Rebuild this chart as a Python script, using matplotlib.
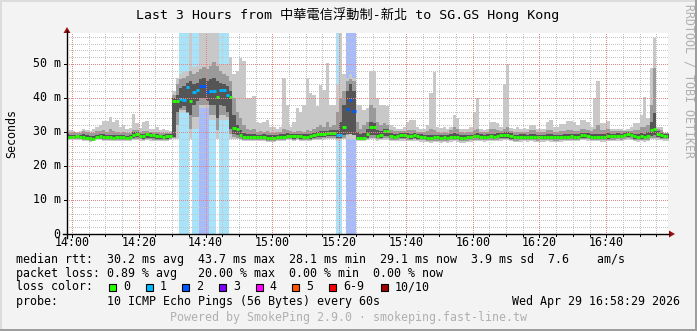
import numpy as np
import matplotlib
matplotlib.use("Agg")
import matplotlib.pyplot as plt
import matplotlib.transforms as mtrans
from matplotlib.patches import Rectangle, Polygon
from matplotlib.lines import Line2D

# ---------------- data (one sample per minute, first sample starts 13:58) ----------------
start_minute = -2
median = [
    28.6, 28.6, 28.5, 28.7, 28.6, 28.5, 28.3, 28.1, 28.0, 28.6,
    28.8, 28.5, 28.4, 28.4, 28.3, 28.4, 28.5, 28.4, 28.3, 28.5,
    29.2, 29.4, 28.9, 28.8, 29.3, 29.1, 29.0, 28.8, 28.7, 28.6,
    28.7, 28.8, 39.1, 39.1, 39.7, 39.4, 43.1, 39.1, 41.8, 42.4,
    43.5, 43.5, 41.7, 41.9, 41.9, 40.4, 42.2, 42.2, 40.9, 40.2,
    31.1, 30.8, 29.1, 28.6, 28.5, 28.5, 28.6, 28.4, 28.4, 28.5,
    28.3, 28.2, 28.2, 28.5, 28.6, 28.6, 28.9, 28.8, 28.7, 28.8,
    28.7, 28.6, 28.6, 28.7, 29.0, 29.3, 29.3, 29.5, 29.7, 29.8,
    29.6, 29.0, 29.1, 31.6, 36.7, 39.5, 36.2, 28.2, 28.2, 28.3,
    29.4, 31.6, 31.6, 28.8, 29.1, 30.4, 30.4, 28.8, 28.6, 28.8,
    29.0, 29.0, 28.9, 28.8, 29.0, 28.7, 28.6, 28.5, 28.3, 28.2,
    28.4, 28.4, 28.3, 28.4, 28.3, 28.5, 28.6, 28.5, 28.3, 28.3,
    28.4, 28.5, 28.8, 28.8, 28.6, 28.5, 28.6, 28.7, 28.6, 28.8,
    29.0, 29.1, 29.1, 28.8, 28.4, 28.4, 28.5, 28.6, 28.5, 28.6,
    28.5, 28.4, 28.5, 28.5, 28.6, 28.5, 28.4, 28.4, 28.5, 28.6,
    28.6, 28.7, 28.6, 28.6, 29.1, 29.1, 28.9, 28.6, 28.6, 28.6,
    28.5, 28.5, 28.7, 28.8, 28.8, 28.9, 28.8, 29.2, 29.3, 29.2,
    28.7, 28.6, 28.7, 28.6, 28.8, 30.6, 30.9, 29.5, 29.0, 28.8, 28.8,
]
smoke_max = [
    40.0, 30.5, 30.3, 30.0, 30.3, 30.8, 30.6, 30.3, 30.8, 31.6,
    32.0, 33.2, 33.3, 34.3, 33.0, 33.5, 31.5, 32.0, 31.0, 31.2,
    35.3, 32.5, 31.2, 32.8, 33.2, 31.0, 31.0, 31.5, 30.6, 31.0,
    30.5, 30.3, 42.0, 46.0, 47.0, 47.5, 48.0, 60.0, 49.0, 49.5,
    60.0, 60.0, 60.0, 60.0, 60.0, 60.0, 50.0, 50.0, 50.0, 52.0,
    47.0, 48.0, 51.7, 51.0, 40.0, 40.0, 40.5, 33.0, 32.5, 33.0,
    33.5, 31.6, 31.6, 31.0, 31.6, 45.8, 38.0, 31.5, 33.0, 37.0,
    36.0, 38.0, 45.8, 41.5, 41.0, 37.5, 43.8, 42.4, 50.2, 38.0,
    38.0, 44.0, 60.0, 47.0, 46.0, 47.0, 46.0, 38.0, 38.0, 36.5,
    37.0, 48.0, 48.0, 40.0, 38.0, 38.0, 37.5, 32.0, 31.5, 31.0,
    31.0, 31.5, 33.0, 33.5, 33.5, 31.5, 31.0, 31.0, 32.0, 41.4,
    47.7, 31.5, 31.2, 31.5, 31.0, 31.5, 35.0, 34.0, 31.0, 31.0,
    31.0, 31.5, 36.0, 39.9, 30.8, 30.6, 31.0, 33.0, 33.0, 32.5,
    31.6, 44.0, 50.0, 31.2, 31.0, 31.5, 31.0, 31.2, 31.0, 32.0,
    32.0, 31.0, 30.8, 31.0, 33.0, 33.5, 31.6, 31.6, 32.3, 32.3,
    33.3, 33.3, 33.0, 32.0, 33.5, 33.5, 33.0, 31.6, 39.9, 45.0,
    32.7, 32.7, 33.3, 31.0, 31.0, 31.0, 31.0, 30.6, 31.0, 31.5,
    32.5, 32.5, 35.0, 40.4, 34.0, 48.7, 57.5, 31.6, 31.6, 29.8, 29.8,
]
smoke_hi_mid = [
    30.0, 29.8, 29.9, 29.7, 29.8, 30.3, 30.0, 29.6, 29.8, 30.2,
    30.3, 30.5, 30.0, 30.8, 30.2, 30.0, 29.8, 30.0, 29.6, 29.8,
    30.6, 30.6, 30.0, 30.2, 30.4, 30.0, 29.9, 30.0, 29.8, 29.8,
    29.8, 29.8, 40.8, 44.0, 45.5, 46.0, 46.5, 48.0, 47.0, 47.5,
    48.5, 49.0, 48.5, 49.5, 50.5, 49.5, 48.0, 47.0, 46.5, 45.0,
    40.0, 36.0, 34.0, 32.0, 31.0, 30.5, 31.0, 30.0, 30.2, 30.0,
    30.3, 29.8, 29.8, 30.0, 30.0, 31.0, 30.5, 30.2, 30.0, 30.4,
    30.3, 30.0, 30.5, 30.3, 31.0, 31.5, 32.0, 31.5, 33.0, 31.5,
    32.0, 36.0, 40.0, 42.0, 45.0, 45.5, 45.0, 33.0, 31.0, 32.0,
    33.0, 38.0, 37.0, 33.0, 32.0, 32.5, 32.0, 30.5, 30.3, 30.2,
    30.3, 30.4, 30.5, 30.6, 30.5, 30.0, 30.0, 30.0, 30.2, 31.0,
    30.5, 30.0, 29.8, 30.0, 29.8, 30.5, 31.5, 31.0, 29.9, 29.8,
    30.0, 30.0, 30.5, 31.0, 30.0, 29.9, 30.0, 31.0, 31.0, 30.5,
    30.3, 31.0, 31.5, 30.2, 30.0, 30.0, 30.0, 30.1, 30.0, 30.5,
    30.5, 30.0, 30.0, 30.0, 30.5, 30.5, 30.0, 30.0, 30.2, 30.2,
    30.5, 30.5, 30.3, 30.2, 30.8, 30.8, 30.5, 30.2, 31.0, 32.0,
    30.5, 30.5, 31.0, 30.3, 30.2, 30.3, 30.2, 30.2, 30.4, 30.3,
    30.5, 30.5, 31.5, 31.5, 32.0, 38.0, 48.7, 31.0, 30.5, 29.6, 29.6,
]
smoke_hi_in = [
    29.3, 29.2, 29.2, 29.1, 29.2, 29.4, 29.0, 28.8, 28.8, 29.2,
    29.4, 29.3, 29.1, 29.2, 29.0, 29.0, 29.1, 29.0, 28.9, 29.1,
    30.0, 30.0, 29.5, 29.4, 29.8, 29.6, 29.5, 29.4, 29.2, 29.2,
    29.3, 29.3, 40.0, 41.0, 43.0, 43.5, 44.5, 45.0, 44.0, 44.5,
    45.5, 46.0, 45.0, 45.5, 46.0, 45.0, 44.5, 44.0, 43.5, 42.0,
    35.0, 32.0, 30.5, 29.8, 29.5, 29.4, 29.5, 29.2, 29.2, 29.3,
    29.2, 29.0, 29.0, 29.2, 29.3, 29.4, 29.6, 29.5, 29.4, 29.5,
    29.4, 29.3, 29.3, 29.4, 29.8, 30.0, 30.2, 30.2, 30.4, 30.5,
    30.5, 30.5, 33.0, 38.0, 42.0, 44.0, 42.0, 30.0, 29.5, 29.6,
    31.0, 33.0, 32.5, 30.5, 30.2, 31.0, 31.0, 29.6, 29.4, 29.5,
    29.6, 29.7, 29.6, 29.5, 29.7, 29.4, 29.3, 29.2, 29.0, 29.0,
    29.2, 29.2, 29.0, 29.1, 29.0, 29.3, 29.8, 29.5, 29.0, 29.0,
    29.1, 29.2, 29.5, 29.6, 29.3, 29.2, 29.3, 29.5, 29.5, 29.6,
    29.7, 29.9, 30.0, 29.6, 29.2, 29.2, 29.3, 29.3, 29.2, 29.4,
    29.3, 29.1, 29.2, 29.2, 29.4, 29.3, 29.1, 29.1, 29.2, 29.3,
    29.4, 29.5, 29.4, 29.3, 29.8, 29.8, 29.6, 29.3, 29.4, 29.5,
    29.3, 29.3, 29.8, 29.5, 29.5, 29.6, 29.5, 29.8, 29.9, 29.8,
    29.5, 29.4, 29.6, 29.5, 30.0, 33.0, 35.5, 30.2, 29.8, 29.4, 29.4,
]
smoke_lo_in = [
    28.2, 28.2, 28.1, 28.2, 28.1, 28.0, 27.9, 27.7, 27.6, 28.1,
    28.3, 28.0, 27.9, 28.0, 27.9, 27.9, 28.0, 27.9, 27.8, 28.0,
    28.2, 28.4, 28.1, 28.0, 28.3, 28.1, 28.1, 28.0, 27.9, 27.9,
    28.0, 28.1, 28.6, 36.0, 37.0, 37.5, 35.8, 35.0, 38.0, 39.0,
    40.0, 40.0, 39.0, 38.0, 38.0, 34.0, 38.0, 37.5, 36.0, 31.0,
    29.5, 29.0, 28.4, 28.0, 27.9, 27.9, 28.0, 27.8, 27.8, 27.9,
    27.7, 27.6, 27.6, 27.8, 27.9, 27.9, 28.1, 28.1, 28.0, 28.1,
    28.0, 27.9, 27.9, 28.0, 28.2, 28.4, 28.4, 28.6, 28.7, 28.8,
    28.7, 28.2, 28.2, 29.0, 29.5, 29.5, 29.0, 27.8, 27.8, 27.9,
    28.3, 29.0, 29.0, 28.2, 28.3, 28.8, 28.8, 28.1, 28.0, 28.1,
    28.2, 28.2, 28.1, 28.0, 28.2, 28.0, 27.9, 27.9, 27.7, 27.6,
    27.8, 27.8, 27.7, 27.8, 27.7, 27.9, 28.0, 27.9, 27.7, 27.7,
    27.8, 27.9, 28.1, 28.1, 28.0, 27.9, 28.0, 28.1, 28.0, 28.1,
    28.2, 28.3, 28.3, 28.0, 27.8, 27.8, 27.9, 28.0, 27.9, 28.0,
    27.9, 27.8, 27.9, 27.9, 28.0, 27.9, 27.8, 27.8, 27.9, 28.0,
    28.0, 28.1, 28.0, 28.0, 28.3, 28.3, 28.2, 28.0, 28.0, 28.0,
    27.9, 27.9, 28.0, 28.1, 28.1, 28.2, 28.1, 28.4, 28.5, 28.4,
    28.0, 27.9, 28.0, 27.9, 28.1, 28.8, 29.0, 28.6, 28.3, 28.2, 28.2,
]
smoke_lo_mid = [
    27.9, 27.9, 27.8, 27.9, 27.8, 27.7, 27.6, 27.4, 27.4, 27.8,
    28.0, 27.7, 27.6, 27.7, 27.6, 27.6, 27.7, 27.6, 27.5, 27.7,
    27.9, 28.0, 27.8, 27.7, 27.9, 27.8, 27.7, 27.7, 27.6, 27.6,
    27.7, 27.8, 28.2, 32.0, 36.5, 36.5, 35.7, 31.0, 34.5, 34.5,
    38.0, 38.0, 37.8, 35.0, 35.0, 30.5, 35.0, 35.0, 34.5, 29.5,
    28.5, 28.3, 28.0, 27.7, 27.6, 27.6, 27.7, 27.5, 27.5, 27.6,
    27.4, 27.3, 27.3, 27.5, 27.6, 27.6, 27.8, 27.8, 27.7, 27.8,
    27.7, 27.6, 27.6, 27.7, 27.9, 28.0, 28.0, 28.1, 28.2, 28.3,
    28.2, 27.8, 27.8, 28.3, 29.0, 29.5, 29.0, 27.5, 27.5, 27.6,
    27.9, 28.3, 28.3, 27.8, 27.9, 28.2, 28.2, 27.7, 27.6, 27.7,
    27.8, 27.8, 27.7, 27.6, 27.8, 27.6, 27.5, 27.5, 27.4, 27.3,
    27.4, 27.4, 27.3, 27.4, 27.3, 27.5, 27.6, 27.5, 27.3, 27.3,
    27.4, 27.5, 27.7, 27.7, 27.6, 27.5, 27.6, 27.7, 27.6, 27.7,
    27.8, 27.9, 27.9, 27.6, 27.4, 27.4, 27.5, 27.6, 27.5, 27.6,
    27.5, 27.4, 27.5, 27.5, 27.6, 27.5, 27.4, 27.4, 27.5, 27.6,
    27.6, 27.7, 27.6, 27.6, 27.9, 27.9, 27.8, 27.6, 27.6, 27.6,
    27.5, 27.5, 27.6, 27.7, 27.7, 27.8, 27.7, 28.0, 28.1, 28.0,
    27.6, 27.5, 27.6, 27.5, 27.7, 28.2, 28.3, 28.1, 27.9, 27.8, 27.8,
]
smoke_min = [
    27.6, 27.6, 27.5, 27.6, 27.5, 27.4, 27.3, 27.1, 27.2, 27.5,
    27.6, 27.4, 27.3, 27.4, 27.3, 27.3, 27.4, 27.3, 27.2, 27.4,
    27.5, 27.6, 27.4, 27.4, 27.5, 27.4, 27.4, 27.4, 27.3, 27.3,
    27.4, 27.5, 27.8, 28.0, 36.0, 36.0, 35.6, 28.0, 31.0, 31.0,
    37.0, 37.0, 37.0, 33.5, 33.5, 28.0, 33.5, 33.5, 33.5, 28.0,
    27.8, 27.8, 27.6, 27.4, 27.3, 27.3, 27.4, 27.2, 27.2, 27.3,
    27.1, 27.0, 27.0, 27.2, 27.3, 27.3, 27.5, 27.5, 27.4, 27.5,
    27.4, 27.3, 27.3, 27.4, 27.5, 27.6, 27.6, 27.7, 27.8, 27.8,
    27.8, 27.4, 27.4, 27.8, 28.0, 28.0, 28.0, 27.2, 27.2, 27.3,
    27.5, 27.8, 27.8, 27.4, 27.5, 27.7, 27.7, 27.3, 27.2, 27.3,
    27.4, 27.4, 27.3, 27.2, 27.4, 27.2, 27.1, 27.1, 27.0, 26.9,
    27.0, 27.0, 26.9, 27.0, 26.9, 27.1, 27.2, 27.1, 26.9, 26.9,
    27.0, 27.1, 27.3, 27.3, 27.2, 27.1, 27.2, 27.3, 27.2, 27.3,
    27.4, 27.5, 27.5, 27.2, 27.0, 27.0, 27.1, 27.2, 27.1, 27.2,
    27.1, 27.0, 27.1, 27.1, 27.2, 27.1, 27.0, 27.0, 27.1, 27.2,
    27.2, 27.3, 27.2, 27.2, 27.5, 27.5, 27.4, 27.2, 27.2, 27.2,
    27.1, 27.1, 27.2, 27.3, 27.3, 27.4, 27.3, 27.6, 27.7, 27.6,
    27.2, 27.1, 27.2, 27.1, 27.3, 27.8, 27.8, 27.6, 27.5, 27.4, 27.4,
]
loss = [
    0, 0, 0, 0, 0, 0, 0, 0, 0, 0,
    0, 0, 0, 0, 0, 0, 0, 0, 0, 0,
    0, 0, 0, 0, 0, 0, 0, 0, 0, 0,
    0, 0, 0, 0, 1, 1, 1, 0, 1, 1,
    2, 2, 2, 1, 1, 0, 1, 1, 1, 0,
    0, 0, 0, 0, 0, 0, 0, 0, 0, 0,
    0, 0, 0, 0, 0, 0, 0, 0, 0, 0,
    0, 0, 0, 0, 0, 0, 0, 0, 0, 0,
    0, 1, 1, 0, 2, 2, 2, 0, 0, 0,
    0, 0, 0, 0, 0, 0, 0, 0, 0, 0,
    0, 0, 0, 0, 0, 0, 0, 0, 0, 0,
    0, 0, 0, 0, 0, 0, 0, 0, 0, 0,
    0, 0, 0, 0, 0, 0, 0, 0, 0, 0,
    0, 0, 0, 0, 0, 0, 0, 0, 0, 0,
    0, 0, 0, 0, 0, 0, 0, 0, 0, 0,
    0, 0, 0, 0, 0, 0, 0, 0, 0, 0,
    0, 0, 0, 0, 0, 0, 0, 0, 0, 0,
    0, 0, 0, 0, 0, 0, 0, 0, 0, 0, 0,
]

x_tick_minutes = [0, 20, 40, 60, 80, 100, 120, 140, 160]
x_tick_labels = ["14:00", "14:20", "14:40", "15:00", "15:20", "15:40", "16:00", "16:20", "16:40"]
y_tick_values = [0, 10, 20, 30, 40, 50]
y_tick_labels = ["0", "10 m", "20 m", "30 m", "40 m", "50 m"]

loss_levels = ["0", "1", "2", "3", "4", "5", "6-9", "10/10"]
loss_colors = ["#26ff00", "#00b8ff", "#0059ff", "#7e00ff", "#ff00ff", "#ff5500", "#ff0000", "#a10000"]
band_colors = {1: "#a9e3f9", 2: "#a8baf8"}

title = "Last 3 Hours from 中華電信浮動制-新北 to SG.GS Hong Kong"
row1 = "median rtt:  30.2 ms avg  43.7 ms max  28.1 ms min  29.1 ms now  3.9 ms sd  7.6    am/s"
row2 = "packet loss: 0.89 % avg   20.00 % max  0.00 % min  0.00 % now"
row3 = "loss color:"
row4 = "probe:       10 ICMP Echo Pings (56 Bytes) every 60s"
stamp = "Wed Apr 29 16:58:29 2026"
footer = "Powered by SmokePing 2.9.0 · smokeping.fast-line.tw"

# ---------------- drawing ----------------
plt.rcParams['font.family'] = ['DejaVu Sans Mono', 'Noto Sans CJK TC']
W, H = 697, 331
fig = plt.figure(figsize=(W / 100, H / 100), dpi=100)
fig.patch.set_facecolor('#f3f3f3')


def fx(px):
    return px / W


def fy(py):
    return 1 - py / H


# frame shading
fig.add_artist(Rectangle((0, 1 - 2 / H), 1, 2 / H, transform=fig.transFigure, color='#dcdcdc', lw=0))
fig.add_artist(Rectangle((0, 0), 2 / W, 1, transform=fig.transFigure, color='#dcdcdc', lw=0))
fig.add_artist(Rectangle((0, 0), 1, 2 / H, transform=fig.transFigure, color='#9e9e9e', lw=0))
fig.add_artist(Rectangle((1 - 2 / W, 0), 2 / W, 1, transform=fig.transFigure, color='#9e9e9e', lw=0))

ax = fig.add_axes([fx(67), fy(234), fx(668) - fx(67), fy(33) - fy(234)])
ax.set_xlim(-1.5, 178.5)
ax.set_ylim(0, 59.1)
ax.set_facecolor('white')
for s in ax.spines.values():
    s.set_visible(False)
ax.set_xticks([])
ax.set_yticks([])

n = len(median)
minutes = np.arange(start_minute, start_minute + n)
edges = np.append(minutes, minutes[-1] + 1)


def stepv(a):
    a = np.asarray(a, dtype=float)
    return np.append(a, a[-1])


loss_arr = np.array(loss)
# loss background bands
for m, l in zip(minutes, loss_arr):
    if l > 0:
        ax.axvspan(m, m + 1, color=band_colors[int(l)], lw=0, zorder=1)

dot = (0, (1, 2))
# minor grid
for m in range(0, 179, 5):
    if m % 20:
        ax.axvline(m, color='#c4c4c4', lw=0.72, ls=dot, zorder=1.5, antialiased=False)
for v in range(2, 59, 2):
    if v % 10:
        ax.axhline(v, color='#c4c4c4', lw=0.72, ls=dot, zorder=1.5, antialiased=False)

# smoke
ax.fill_between(edges, stepv(smoke_min), stepv(smoke_max), step='post', color='#c8c8c8', lw=0, zorder=2)
ax.fill_between(edges, stepv(smoke_lo_mid), stepv(smoke_hi_mid), step='post', color='#9a9a9a', lw=0, zorder=3)
ax.fill_between(edges, stepv(smoke_lo_in), stepv(smoke_hi_in), step='post', color='#555555', lw=0, zorder=4)

# median coloured by loss, one short bar per sample
med = np.array(median, dtype=float)
ax.hlines(med, minutes, minutes + 1, colors=[loss_colors[int(l)] for l in loss_arr],
          lw=2.1, zorder=5, capstyle='butt')

# major grid
for m in x_tick_minutes:
    ax.axvline(m, color='#e08888', lw=0.72, ls=dot, zorder=6, antialiased=False)
for v in y_tick_values[1:]:
    ax.axhline(v, color='#e08888', lw=0.72, ls=dot, zorder=6, antialiased=False)

# axes lines + arrows
fig.add_artist(Line2D([fx(63), fx(669)], [fy(234), fy(234)], transform=fig.transFigure, color='black', lw=1.0))
fig.add_artist(Line2D([fx(67), fx(67)], [fy(238), fy(31)], transform=fig.transFigure, color='black', lw=1.0))
fig.add_artist(Polygon([(fx(669), fy(230.5)), (fx(669), fy(237.5)), (fx(675), fy(234))],
                       closed=True, transform=fig.transFigure, color='#9c1010', lw=0))
fig.add_artist(Polygon([(fx(63.5), fy(33)), (fx(70.5), fy(33)), (fx(67), fy(27))],
                       closed=True, transform=fig.transFigure, color='#9c1010', lw=0))

bx = mtrans.blended_transform_factory(ax.transData, fig.transFigure)
by = mtrans.blended_transform_factory(fig.transFigure, ax.transData)

# ticks
for m in range(0, 179, 5):
    ln = 3 if m % 20 == 0 else 2
    fig.add_artist(Line2D([m, m], [fy(234), fy(234 + ln)], transform=bx, color='black', lw=0.72))
for v in y_tick_values:
    fig.add_artist(Line2D([fx(64), fx(67)], [v, v], transform=by, color='black', lw=0.72))

FS = 8.4
for m, lab in zip(x_tick_minutes, x_tick_labels):
    fig.text(m, fy(242.5), lab, transform=bx, ha='center', va='center', fontsize=FS)
for v, lab in zip(y_tick_values, y_tick_labels):
    fig.text(fx(60.5), v, lab, transform=by, ha='right', va='center', fontsize=FS)

fig.text(fx(348), fy(15), title, ha='center', va='center', fontsize=9.5)
fig.text(fx(12), fy(133), 'Seconds', rotation=90, ha='center', va='center', fontsize=FS)
fig.text(fx(689), fy(81), 'RRDTOOL / TOBI OETIKER', rotation=270, ha='center', va='center',
         fontsize=FS, color='#b0b0b0')

# legend block
fig.text(fx(16), fy(259), row1, ha='left', va='center', fontsize=FS)
fig.text(fx(16), fy(273), row2, ha='left', va='center', fontsize=FS)
fig.text(fx(16), fy(287), row3, ha='left', va='center', fontsize=FS)
fig.text(fx(16), fy(301), row4, ha='left', va='center', fontsize=FS)
fig.text(fx(680), fy(301), stamp, ha='right', va='center', fontsize=FS)
fig.text(fx(349), fy(318), footer, ha='center', va='center', fontsize=FS, color='#b0b0b0')

sq_x = [109, 145.7, 182.3, 219, 255.7, 292.3, 329, 380.7]
for xs, lab, col in zip(sq_x, loss_levels, loss_colors):
    fig.add_artist(Rectangle((fx(xs), fy(290.5)), 7 / W, 7 / H, transform=fig.transFigure,
                             facecolor=col, edgecolor='black', lw=0.8))
    fig.text(fx(xs + 14), fy(287), lab, ha='left', va='center', fontsize=FS)

fig.savefig('out.png', dpi=100, facecolor=fig.get_facecolor())
